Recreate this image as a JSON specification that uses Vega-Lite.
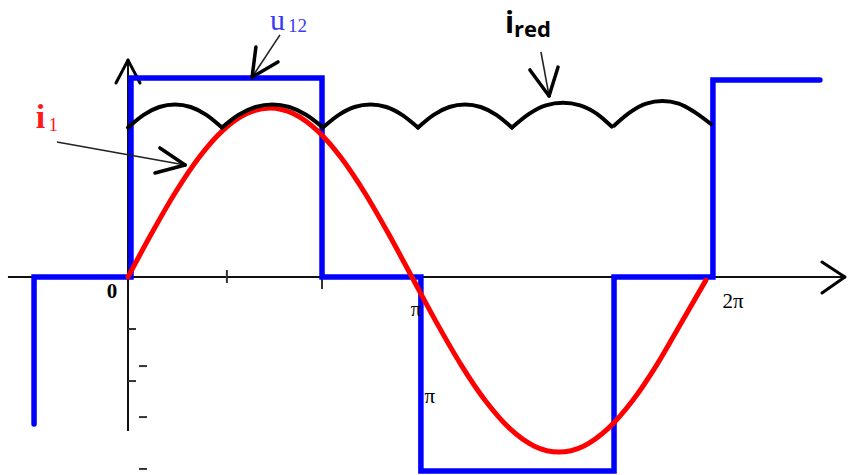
{
  "$schema": "https://vega.github.io/schema/vega-lite/v6.json",
  "width": 848,
  "height": 475,
  "autosize": "none",
  "padding": 0,
  "background": "white",
  "config": {"view": {"stroke": null}},
  "datasets": {
    "axes": [
      {"t": -0.414, "y": 0, "t2": 2.472, "y2": 0},
      {"t": 0, "y": -0.906, "t2": 0, "y2": 1.276}
    ],
    "heads": [
      {"t": 2.472, "y": 0, "t2": 2.393, "y2": 0.088},
      {"t": 2.472, "y": 0, "t2": 2.393, "y2": -0.094},
      {"t": 0, "y": 1.276, "t2": -0.0414, "y2": 1.141},
      {"t": 0, "y": 1.276, "t2": 0.0414, "y2": 1.141}
    ],
    "ticks": [
      {"t": 0.341, "y": 0.041, "t2": 0.341, "y2": -0.035},
      {"t": 0.669, "y": 0, "t2": 0.669, "y2": -0.071},
      {"t": 0, "y": -0.306, "t2": 0.0276, "y2": -0.306},
      {"t": 0, "y": -0.612, "t2": 0.0276, "y2": -0.612},
      {"t": 0.038, "y": -0.524, "t2": 0.0655, "y2": -0.524},
      {"t": 0.038, "y": -0.824, "t2": 0.0655, "y2": -0.824},
      {"t": 0.038, "y": -1.129, "t2": 0.0655, "y2": -1.129}
    ],
    "shafts": [
      {"t": 0.524, "y": 1.424, "t2": 0.428, "y2": 1.176},
      {"t": -0.245, "y": 0.794, "t2": 0.197, "y2": 0.659},
      {"t": 1.424, "y": 1.324, "t2": 1.452, "y2": 1.065}
    ],
    "barbs": [
      {"t": 0.428, "y": 1.176, "t2": 0.441, "y2": 1.353},
      {"t": 0.428, "y": 1.176, "t2": 0.517, "y2": 1.265},
      {"t": 0.197, "y": 0.659, "t2": 0.110, "y2": 0.759},
      {"t": 0.197, "y": 0.659, "t2": 0.093, "y2": 0.612},
      {"t": 1.452, "y": 1.065, "t2": 1.386, "y2": 1.218},
      {"t": 1.452, "y": 1.065, "t2": 1.483, "y2": 1.235}
    ],
    "u12": [
      {"i": 0, "t": -0.324, "y": -0.865},
      {"i": 1, "t": -0.324, "y": 0},
      {"i": 2, "t": 0.0103, "y": 0},
      {"i": 3, "t": 0.0103, "y": 1.171},
      {"i": 4, "t": 0.669, "y": 1.171},
      {"i": 5, "t": 0.669, "y": 0},
      {"i": 6, "t": 1.01, "y": 0},
      {"i": 7, "t": 1.01, "y": -1.141},
      {"i": 8, "t": 1.676, "y": -1.141},
      {"i": 9, "t": 1.676, "y": 0},
      {"i": 10, "t": 2.017, "y": 0},
      {"i": 11, "t": 2.017, "y": 1.159},
      {"i": 12, "t": 2.386, "y": 1.159}
    ],
    "i1": [
      {"t": 0, "y": 0}, {"t": 0.0816, "y": 0.257}, {"t": 0.1632, "y": 0.497},
      {"t": 0.2448, "y": 0.703}, {"t": 0.3263, "y": 0.861}, {"t": 0.4079, "y": 0.96},
      {"t": 0.4895, "y": 0.994}, {"t": 0.5711, "y": 0.96}, {"t": 0.6527, "y": 0.861},
      {"t": 0.7343, "y": 0.703}, {"t": 0.8158, "y": 0.497}, {"t": 0.8974, "y": 0.257},
      {"t": 0.979, "y": 0}, {"t": 1.0635, "y": -0.267}, {"t": 1.148, "y": -0.515},
      {"t": 1.2325, "y": -0.728}, {"t": 1.317, "y": -0.892}, {"t": 1.4015, "y": -0.995},
      {"t": 1.486, "y": -1.03}, {"t": 1.5705, "y": -0.995}, {"t": 1.655, "y": -0.892},
      {"t": 1.7395, "y": -0.728}, {"t": 1.824, "y": -0.515}, {"t": 1.9085, "y": -0.267},
      {"t": 1.993, "y": -0.018}
    ],
    "ired": [
      {"arc": 1, "t": 0, "y": 0.879}, {"arc": 1, "t": 0.054, "y": 0.954}, {"arc": 1, "t": 0.108, "y": 1.0},
      {"arc": 1, "t": 0.162, "y": 1.015}, {"arc": 1, "t": 0.216, "y": 1.0}, {"arc": 1, "t": 0.27, "y": 0.954},
      {"arc": 1, "t": 0.324, "y": 0.879},
      {"arc": 2, "t": 0.324, "y": 0.879}, {"arc": 2, "t": 0.382, "y": 0.954}, {"arc": 2, "t": 0.44, "y": 1.0},
      {"arc": 2, "t": 0.498, "y": 1.015}, {"arc": 2, "t": 0.556, "y": 1.0}, {"arc": 2, "t": 0.614, "y": 0.954},
      {"arc": 2, "t": 0.672, "y": 0.879},
      {"arc": 3, "t": 0.672, "y": 0.879}, {"arc": 3, "t": 0.727, "y": 0.954}, {"arc": 3, "t": 0.781, "y": 1.0},
      {"arc": 3, "t": 0.836, "y": 1.015}, {"arc": 3, "t": 0.891, "y": 1.0}, {"arc": 3, "t": 0.945, "y": 0.954},
      {"arc": 3, "t": 1.0, "y": 0.879},
      {"arc": 4, "t": 1.0, "y": 0.879}, {"arc": 4, "t": 1.054, "y": 0.954}, {"arc": 4, "t": 1.108, "y": 1.0},
      {"arc": 4, "t": 1.162, "y": 1.015}, {"arc": 4, "t": 1.216, "y": 1.0}, {"arc": 4, "t": 1.27, "y": 0.954},
      {"arc": 4, "t": 1.324, "y": 0.879},
      {"arc": 5, "t": 1.324, "y": 0.879}, {"arc": 5, "t": 1.383, "y": 0.96}, {"arc": 5, "t": 1.441, "y": 1.01},
      {"arc": 5, "t": 1.5, "y": 1.025}, {"arc": 5, "t": 1.559, "y": 1.01}, {"arc": 5, "t": 1.617, "y": 0.96},
      {"arc": 5, "t": 1.668, "y": 0.885},
      {"arc": 6, "t": 1.676, "y": 0.89}, {"arc": 6, "t": 1.732, "y": 0.97}, {"arc": 6, "t": 1.787, "y": 1.02},
      {"arc": 6, "t": 1.843, "y": 1.035}, {"arc": 6, "t": 1.899, "y": 1.02}, {"arc": 6, "t": 1.954, "y": 0.97},
      {"arc": 6, "t": 2.01, "y": 0.9}
    ]
  },
  "encoding": {
    "x": {"field": "t", "type": "quantitative", "scale": {"domain": [-0.4414, 2.4828], "nice": false, "zero": false}, "axis": null},
    "y": {"field": "y", "type": "quantitative", "scale": {"domain": [-1.1647, 1.6294], "nice": false, "zero": false}, "axis": null}
  },
  "layer": [
    {
      "data": {"name": "axes"},
      "mark": {"type": "rule", "color": "#111111", "strokeWidth": 2},
      "encoding": {"x2": {"field": "t2"}, "y2": {"field": "y2"}}
    },
    {
      "data": {"name": "heads"},
      "mark": {"type": "rule", "color": "#000000", "strokeWidth": 3, "strokeCap": "round"},
      "encoding": {"x2": {"field": "t2"}, "y2": {"field": "y2"}}
    },
    {
      "data": {"name": "ticks"},
      "mark": {"type": "rule", "color": "#333333", "strokeWidth": 2},
      "encoding": {"x2": {"field": "t2"}, "y2": {"field": "y2"}}
    },
    {
      "data": {"name": "u12"},
      "mark": {"type": "line", "color": "#0000ff", "strokeWidth": 5.5, "strokeCap": "round", "strokeJoin": "miter"},
      "encoding": {"order": {"field": "i", "type": "quantitative"}}
    },
    {
      "data": {"name": "i1"},
      "mark": {"type": "line", "color": "#ff0000", "strokeWidth": 5, "interpolate": "monotone", "strokeCap": "round"},
      "encoding": {}
    },
    {
      "data": {"name": "ired"},
      "mark": {"type": "line", "color": "#000000", "strokeWidth": 4, "interpolate": "monotone", "strokeCap": "round"},
      "encoding": {"detail": {"field": "arc", "type": "nominal"}}
    },
    {
      "data": {"name": "shafts"},
      "mark": {"type": "rule", "color": "#222222", "strokeWidth": 1.6},
      "encoding": {"x2": {"field": "t2"}, "y2": {"field": "y2"}}
    },
    {
      "data": {"name": "barbs"},
      "mark": {"type": "rule", "color": "#000000", "strokeWidth": 3.5, "strokeCap": "round"},
      "encoding": {"x2": {"field": "t2"}, "y2": {"field": "y2"}}
    },
    {
      "data": {"values": [{"t": -0.055, "y": -0.088, "label": "0"}]},
      "mark": {"type": "text", "font": "Liberation Serif", "fontWeight": "bold", "fontSize": 21, "align": "center", "baseline": "middle", "color": "#000000"},
      "encoding": {"text": {"field": "label"}}
    },
    {
      "data": {"values": [{"t": 0.993, "y": -0.194, "label": "π"}, {"t": 1.041, "y": -0.706, "label": "π"}, {"t": 2.086, "y": -0.147, "label": "2π"}]},
      "mark": {"type": "text", "font": "Liberation Serif", "fontSize": 21, "align": "center", "baseline": "middle", "color": "#000000"},
      "encoding": {"text": {"field": "label"}}
    },
    {
      "data": {"values": [{"t": 0.49, "y": 1.453, "label": "u"}]},
      "mark": {"type": "text", "font": "Liberation Serif", "fontSize": 30, "align": "left", "baseline": "alphabetic", "color": "#3b3bf5"},
      "encoding": {"text": {"field": "label"}}
    },
    {
      "data": {"values": [{"t": 0.552, "y": 1.441, "label": "12"}]},
      "mark": {"type": "text", "font": "Liberation Serif", "fontSize": 19, "align": "left", "baseline": "alphabetic", "color": "#3b3bf5"},
      "encoding": {"text": {"field": "label"}}
    },
    {
      "data": {"values": [{"t": -0.318, "y": 0.876, "label": "i"}]},
      "mark": {"type": "text", "font": "Liberation Serif", "fontWeight": "bold", "fontSize": 34, "align": "left", "baseline": "alphabetic", "color": "#ff1a1a"},
      "encoding": {"text": {"field": "label"}}
    },
    {
      "data": {"values": [{"t": -0.274, "y": 0.859, "label": "1"}]},
      "mark": {"type": "text", "font": "Liberation Serif", "fontSize": 19, "align": "left", "baseline": "alphabetic", "color": "#ff1a1a"},
      "encoding": {"text": {"field": "label"}}
    },
    {
      "data": {"values": [{"t": 1.3, "y": 1.435, "label": "i"}]},
      "mark": {"type": "text", "font": "Open Sans", "fontWeight": "bold", "fontSize": 30, "align": "left", "baseline": "alphabetic", "color": "#000000"},
      "encoding": {"text": {"field": "label"}}
    },
    {
      "data": {"values": [{"t": 1.331, "y": 1.412, "label": "red"}]},
      "mark": {"type": "text", "font": "Open Sans", "fontWeight": "bold", "fontSize": 22, "align": "left", "baseline": "alphabetic", "color": "#000000"},
      "encoding": {"text": {"field": "label"}}
    }
  ]
}
